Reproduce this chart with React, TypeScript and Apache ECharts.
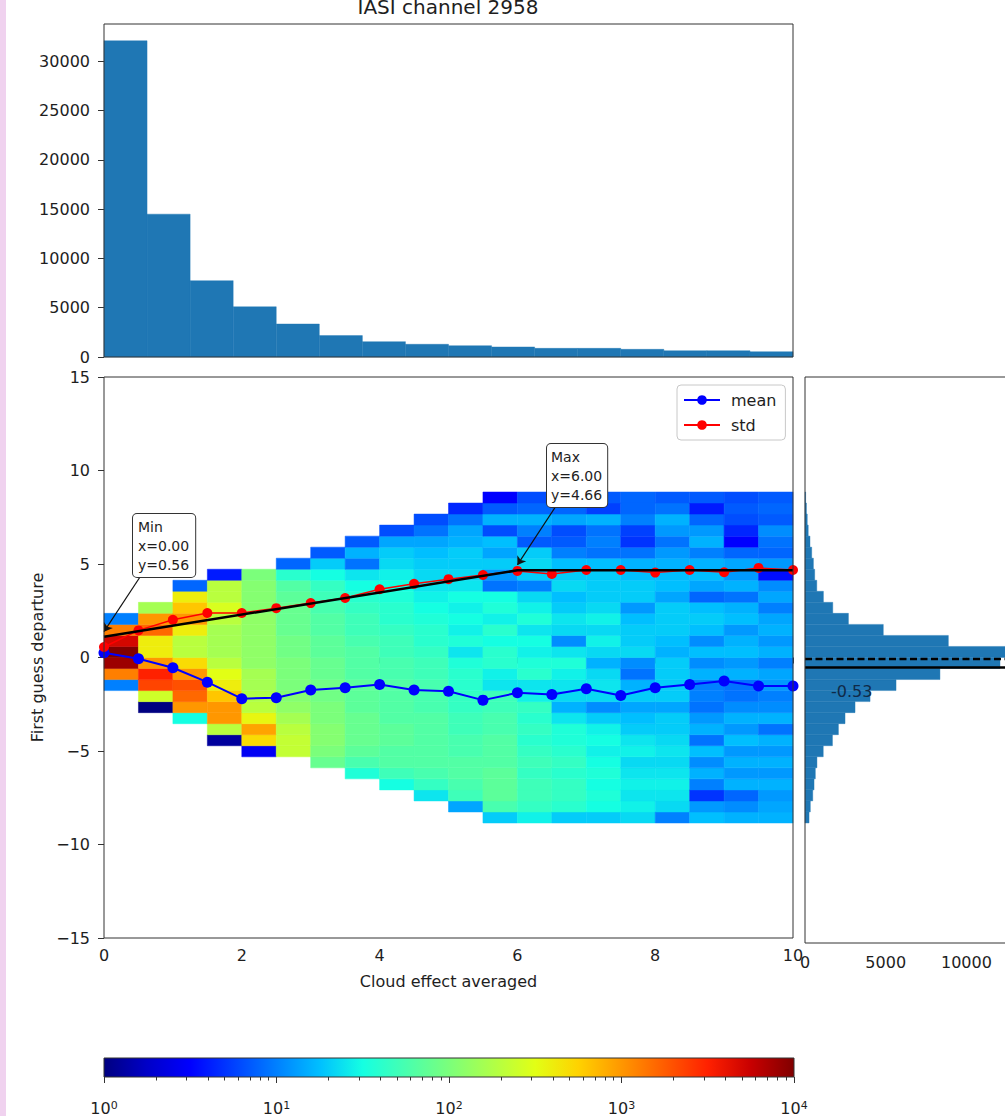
import React, { useEffect, useRef } from "react";
import * as echarts from "echarts";

// ----------------------------- data -----------------------------
const titleText = "IASI channel 2958";
const xAxisTitle = "Cloud effect averaged";
const yAxisTitle = "First guess departure";

// top histogram: 16 bins over [0, 10]
const topBinWidth = 0.625;
const topCounts = [32100, 14500, 7750, 5100, 3350, 2170, 1560, 1290, 1150, 1020, 880, 880, 780, 640, 640, 540];
const topYMax = 33800;
const topYTicks = [0, 5000, 10000, 15000, 20000, 25000, 30000];

// 2D histogram (log10 of counts); columns are 0.5 wide in x, rows 0.59 tall from -8.85
const heatXBinWidth = 0.5;
const heatYEdge0 = -8.85;
const heatYBinWidth = 0.59;
const heatStartRow = [12, 10, 9, 7, 6, 6, 5, 4, 3, 2, 1, 0, 0, 0, 0, 0, 0, 0, 0, 0];
const heatLog10: number[][] = [
  [1.0, 3.1, 3.9, 4.0, 3.7, 3.1, 1.0],
  [0.0, 2.4, 3.35, 3.5, 3.0, 2.6, 2.6, 3.2, 3.0, 2.2],
  [1.5, 3.0, 3.2, 3.3, 3.0, 2.7, 2.3, 2.3, 2.6, 3.0, 2.8, 2.6, 0.9],
  [0.1, 2.3, 3.0, 3.0, 2.8, 2.6, 2.5, 2.3, 2.2, 2.2, 2.2, 2.3, 2.45, 2.3, 2.3, 0.6],
  [0.45, 2.7, 2.95, 2.55, 2.3, 2.25, 2.2, 2.2, 2.1, 2.1, 2.1, 2.1, 2.1, 2.05, 2.05, 2.05, 2.0],
  [2.35, 2.35, 2.3, 2.2, 2.1, 2.05, 2.0, 2.0, 2.0, 1.95, 1.95, 1.9, 1.9, 1.9, 1.85, 1.8, 1.6, 0.9],
  [1.9, 2.0, 2.05, 2.05, 2.0, 2.0, 1.95, 1.95, 1.9, 1.9, 1.85, 1.85, 1.8, 1.8, 1.75, 1.7, 1.65, 1.5, 1.3, 0.85],
  [1.55, 1.75, 1.85, 1.9, 1.9, 1.9, 1.85, 1.85, 1.85, 1.8, 1.8, 1.8, 1.75, 1.7, 1.7, 1.65, 1.6, 1.5, 1.4, 0.95, 1.2, 0.85],
  [1.5, 1.7, 1.8, 1.8, 1.85, 1.85, 1.8, 1.8, 1.8, 1.8, 1.75, 1.75, 1.7, 1.7, 1.65, 1.6, 1.6, 1.55, 1.5, 1.45, 1.35, 1.3, 1.15, 0.8],
  [1.4, 1.65, 1.75, 1.8, 1.8, 1.8, 1.8, 1.8, 1.75, 1.75, 1.75, 1.7, 1.7, 1.65, 1.6, 1.6, 1.55, 1.5, 1.45, 1.4, 1.35, 1.3, 1.25, 1.15, 0.95, 0.8],
  [1.15, 1.7, 1.75, 1.8, 1.8, 1.75, 1.75, 1.7, 1.7, 1.65, 1.65, 1.6, 1.6, 1.55, 1.4, 1.55, 1.45, 1.5, 1.45, 1.5, 1.4, 1.35, 1.3, 1.3, 1.2, 1.15, 0.95, 0.65],
  [1.3, 1.75, 1.85, 1.85, 1.85, 1.8, 1.8, 1.8, 1.75, 1.75, 1.7, 1.7, 1.4, 1.45, 1.6, 1.6, 1.5, 1.6, 1.45, 1.55, 1.5, 0.95, 1.1, 1.3, 1.15, 1.25, 0.8, 1.2, 0.85, 0.5],
  [1.45, 1.65, 1.7, 1.7, 1.65, 1.7, 1.65, 1.6, 1.65, 1.6, 1.65, 1.45, 1.4, 1.6, 1.55, 1.45, 1.5, 1.4, 1.55, 1.45, 1.35, 1.0, 1.3, 1.35, 1.3, 0.85, 1.0, 1.2, 0.9, 0.8],
  [1.3, 1.6, 1.65, 1.65, 1.6, 1.65, 1.6, 1.55, 1.55, 1.4, 1.2, 1.35, 1.4, 1.45, 1.55, 1.4, 1.05, 1.35, 1.4, 1.3, 1.25, 1.35, 1.3, 1.25, 1.0, 0.85, 0.8, 1.15, 0.9, 0.85],
  [1.3, 1.5, 1.55, 1.5, 1.55, 1.5, 1.45, 1.5, 1.45, 1.3, 1.05, 1.35, 1.4, 1.35, 1.2, 1.35, 1.45, 1.35, 1.45, 1.35, 1.3, 1.3, 1.3, 1.25, 0.95, 1.0, 0.95, 1.2, 0.75, 0.85],
  [1.35, 1.45, 1.4, 1.45, 1.4, 1.35, 1.45, 1.4, 1.3, 1.25, 1.15, 1.3, 1.2, 0.95, 1.05, 1.35, 1.3, 1.3, 1.25, 1.1, 1.3, 1.3, 1.25, 1.2, 0.95, 0.7, 0.75, 1.0, 0.9, 0.9],
  [1.0, 1.35, 1.4, 1.45, 1.4, 1.35, 1.4, 1.35, 1.3, 1.3, 1.15, 1.3, 1.3, 1.3, 1.3, 1.2, 1.25, 1.3, 1.3, 1.3, 1.15, 1.25, 1.25, 1.2, 1.1, 0.95, 1.1, 1.2, 0.95, 0.85],
  [1.25, 1.1, 0.7, 1.0, 1.2, 1.05, 1.25, 0.95, 1.2, 1.1, 0.95, 1.0, 1.0, 1.2, 1.05, 1.25, 1.05, 1.25, 1.3, 1.25, 0.9, 1.15, 1.25, 1.2, 1.0, 1.2, 1.1, 0.9, 0.6, 0.85],
  [1.2, 1.05, 0.9, 1.2, 1.1, 1.2, 1.1, 1.25, 1.1, 1.2, 1.05, 0.95, 0.95, 1.2, 1.1, 1.25, 1.2, 1.1, 1.25, 1.2, 0.95, 1.2, 1.1, 1.15, 0.9, 0.5, 0.65, 0.8, 0.85, 0.8],
  [1.2, 1.15, 1.1, 1.2, 1.1, 1.2, 1.1, 1.2, 0.95, 1.2, 1.05, 1.0, 1.1, 1.15, 1.0, 1.2, 1.1, 1.2, 1.15, 1.0, 1.15, 1.05, 0.55, 1.1, 0.9, 0.95, 1.05, 0.85, 0.9, 0.85],
];

// per-bin statistics
const statX = [0, 0.5, 1, 1.5, 2, 2.5, 3, 3.5, 4, 4.5, 5, 5.5, 6, 6.5, 7, 7.5, 8, 8.5, 9, 9.5, 10];
const meanValues = [0.25, -0.07, -0.55, -1.32, -2.2, -2.15, -1.74, -1.62, -1.44, -1.74, -1.8, -2.28, -1.89, -1.98, -1.67, -2.03, -1.62, -1.44, -1.26, -1.53, -1.53];
const stdValues = [0.56, 1.45, 2.02, 2.38, 2.38, 2.64, 2.91, 3.18, 3.65, 3.94, 4.19, 4.41, 4.63, 4.47, 4.68, 4.68, 4.54, 4.68, 4.56, 4.79, 4.68];
const fitX = [0, 6, 10];
const fitY = [1.11, 4.66, 4.66];
const minNote = "Min\nx=0.00\ny=0.56";
const maxNote = "Max\nx=6.00\ny=4.66";
const minArrowTip = [0, 1.38];
const maxArrowTip = [6, 4.95];

// right histogram (same y bins as the 2D histogram)
const rightCounts = [250, 330, 480, 560, 640, 740, 1130, 1700, 2070, 2480, 3100, 4030, 5640, 8360, 12080, 13300, 8880, 4850, 2690, 1720, 1140, 730, 600, 520, 415, 310, 200, 140, 90, 40];
const rightXMax = 14000;
const rightMeanLine = -0.53;
const rightDashLine = -0.08;
const rightMeanLabel = "-0.53";

// colorbar (log10 decades)
const cbarMinorMultipliers = [2, 3, 4, 5, 6, 7, 8, 9];
const cbarDecades = [0, 1, 2, 3];

// ----------------------------- style -----------------------------
const FONT = "DejaVu Sans";
const TXT = "#1e1e1e";
const SPINE = "#333";
const HIST_BLUE = "#1f77b4";
const jetColors = [
  "#000080", "#0000c8", "#0000ff", "#0040ff", "#0080ff", "#00bfff", "#15ffe2", "#48ffaf",
  "#7bff7b", "#afff48", "#e2ff15", "#ffd200", "#ff9700", "#ff5c00", "#ff2100", "#c80000", "#800000",
];

const plainFmt = (v: number) => String(v);
const minusFmt = (v: number) => (v < 0 ? "\u2212" + Math.abs(v) : String(v));

function buildOption() {
  const topData = topCounts.map((c, i) => [i * topBinWidth, (i + 1) * topBinWidth, c]);
  const heatData: number[][] = [];
  heatLog10.forEach((col, i) => {
    col.forEach((v, j) => {
      const row = heatStartRow[i] + j;
      const x0 = i * heatXBinWidth;
      const y0 = heatYEdge0 + row * heatYBinWidth;
      heatData.push([x0, x0 + heatXBinWidth, y0, y0 + heatYBinWidth, v]);
    });
  });
  const rightData = rightCounts.map((c, k) => {
    const y0 = heatYEdge0 + k * heatYBinWidth;
    return [y0, y0 + heatYBinWidth, c];
  });
  const cbarMinor: number[] = [];
  cbarDecades.forEach((d) => cbarMinorMultipliers.forEach((m) => cbarMinor.push(d + Math.log10(m))));

  const labelBase = { fontFamily: FONT, fontSize: 16, color: TXT };
  const tick = (len: number) => ({ show: true, length: len, lineStyle: { color: SPINE, width: 1 } });
  const gridBase = { show: true, z: 10, backgroundColor: "transparent", borderColor: SPINE, borderWidth: 1 };

  const jetStops = jetColors.map((c, i) => ({ offset: i / (jetColors.length - 1), color: c }));

  return {
    animation: false,
    textStyle: { fontFamily: FONT },
    grid: [
      { ...gridBase, left: 104, top: 24, width: 689, height: 333 },
      { ...gridBase, left: 104, top: 377, width: 689, height: 561 },
      { ...gridBase, left: 805, top: 377, width: 226, height: 566 },
      { ...gridBase, left: 104, top: 1058, width: 690, height: 37 },
    ],
    xAxis: [
      { gridIndex: 0, type: "value", min: 0, max: 10, axisLine: { show: false }, axisTick: { show: false }, axisLabel: { show: false }, splitLine: { show: false } },
      {
        gridIndex: 1, type: "value", min: 0, max: 10, interval: 2, position: "bottom",
        axisLine: { show: false }, axisTick: tick(6), splitLine: { show: false },
        axisLabel: { ...labelBase, margin: 9 },
        name: xAxisTitle, nameLocation: "middle", nameGap: 35, nameTextStyle: { ...labelBase },
      },
      {
        gridIndex: 2, type: "value", min: 0, max: rightXMax, interval: 5000, position: "bottom",
        axisLine: { show: false }, axisTick: tick(6), splitLine: { show: false },
        axisLabel: { ...labelBase, margin: 11, showMaxLabel: false, formatter: plainFmt },
      },
      {
        gridIndex: 3, type: "value", min: 0, max: 4, interval: 1, position: "bottom",
        axisLine: { show: false }, axisTick: tick(6), splitLine: { show: false },
        axisLabel: {
          margin: 23,
          formatter: (v: number) => `{b|10}{s|${v}}`,
          rich: {
            b: { fontFamily: FONT, fontSize: 16, color: TXT },
            s: { fontFamily: FONT, fontSize: 11, color: TXT, verticalAlign: "top" },
          },
        },
      },
      {
        gridIndex: 3, type: "value", min: 0, max: 4, position: "bottom",
        axisLine: { show: false }, splitLine: { show: false }, axisLabel: { show: false },
        axisTick: { ...tick(3.5), customValues: cbarMinor },
      },
    ],
    yAxis: [
      {
        gridIndex: 0, type: "value", min: 0, max: topYMax,
        axisLine: { show: false }, splitLine: { show: false },
        axisTick: { ...tick(6), customValues: topYTicks },
        axisLabel: { ...labelBase, margin: 14, customValues: topYTicks, formatter: plainFmt },
      },
      {
        gridIndex: 1, type: "value", min: -15, max: 15, interval: 5,
        axisLine: { show: false }, splitLine: { show: false }, axisTick: tick(6),
        axisLabel: { ...labelBase, margin: 14, formatter: minusFmt },
        name: yAxisTitle, nameLocation: "middle", nameGap: 53, nameRotate: 90, nameTextStyle: { ...labelBase },
      },
      { gridIndex: 2, type: "value", min: -15.27, max: 15, axisLine: { show: false }, axisTick: { show: false }, axisLabel: { show: false }, splitLine: { show: false } },
      { gridIndex: 3, type: "value", min: 0, max: 1, axisLine: { show: false }, axisTick: { show: false }, axisLabel: { show: false }, splitLine: { show: false } },
    ],
    visualMap: {
      type: "continuous", show: false, min: 0, max: 4, dimension: 4, seriesIndex: 1,
      inRange: { color: jetColors },
    },
    legend: {
      data: ["mean", "std"], orient: "vertical", left: 677, top: 385,
      padding: [7, 9, 7, 6], itemGap: 9, itemWidth: 36, itemHeight: 12,
      backgroundColor: "#fff", borderColor: "#c8c8c8", borderWidth: 1, borderRadius: 4,
      textStyle: { fontFamily: FONT, fontSize: 16, color: TXT, padding: [0, 0, 0, 6] },
      selectedMode: false,
    },
    series: [
      {
        type: "custom", name: "top", xAxisIndex: 0, yAxisIndex: 0, silent: true, z: 2,
        data: topData, encode: { x: [0, 1], y: 2 },
        renderItem: (_p: any, api: any) => {
          const a = api.coord([api.value(0), api.value(2)]);
          const b = api.coord([api.value(1), 0]);
          return { type: "rect", shape: { x: a[0], y: a[1], width: b[0] - a[0], height: b[1] - a[1] }, style: { fill: HIST_BLUE, stroke: HIST_BLUE, lineWidth: 0.4 } };
        },
      },
      {
        type: "custom", name: "density", xAxisIndex: 1, yAxisIndex: 1, silent: true, z: 1,
        data: heatData, encode: { x: [0, 1], y: [2, 3] },
        renderItem: (_p: any, api: any) => {
          const a = api.coord([api.value(0), api.value(3)]);
          const b = api.coord([api.value(1), api.value(2)]);
          const c = api.visual("color");
          return { type: "rect", shape: { x: a[0], y: a[1], width: b[0] - a[0], height: b[1] - a[1] }, style: { fill: c, stroke: c, lineWidth: 0.5 } };
        },
      },
      {
        type: "line", name: "mean", xAxisIndex: 1, yAxisIndex: 1, silent: true, z: 3,
        data: statX.map((x, i) => [x, meanValues[i]]),
        symbol: "circle", symbolSize: 11, color: "#0000ff",
        lineStyle: { color: "#0000ff", width: 2 }, itemStyle: { color: "#0000ff" },
      },
      {
        type: "line", name: "std", xAxisIndex: 1, yAxisIndex: 1, silent: true, z: 3,
        data: statX.map((x, i) => [x, stdValues[i]]),
        symbol: "circle", symbolSize: 10, color: "#ff0000",
        lineStyle: { color: "#ff0000", width: 1.5 }, itemStyle: { color: "#ff0000" },
      },
      {
        type: "line", name: "fit", xAxisIndex: 1, yAxisIndex: 1, silent: true, z: 4,
        data: fitX.map((x, i) => [x, fitY[i]]),
        symbol: "none", lineStyle: { color: "#000", width: 2.5 },
        markLine: {
          silent: true, symbol: ["none", "arrow"], symbolSize: 8,
          label: { show: false },
          lineStyle: { color: "#111", width: 1.2, type: "solid" },
          data: [
            [{ x: 140, y: 577 }, { coord: minArrowTip }],
            [{ x: 556, y: 506 }, { coord: maxArrowTip }],
          ],
        },
      },
      {
        type: "custom", name: "right", xAxisIndex: 2, yAxisIndex: 2, silent: true, z: 2,
        data: rightData, encode: { y: [0, 1], x: 2 },
        renderItem: (_p: any, api: any) => {
          const a = api.coord([0, api.value(1)]);
          const b = api.coord([api.value(2), api.value(0)]);
          return { type: "rect", shape: { x: a[0], y: a[1], width: b[0] - a[0], height: b[1] - a[1] }, style: { fill: HIST_BLUE, stroke: HIST_BLUE, lineWidth: 0.4 } };
        },
      },
      {
        type: "line", name: "rightMean", xAxisIndex: 2, yAxisIndex: 2, silent: true, z: 4,
        data: [[0, rightMeanLine], [rightXMax, rightMeanLine]], symbol: "none",
        lineStyle: { color: "#000", width: 2.5 },
      },
      {
        type: "line", name: "rightDash", xAxisIndex: 2, yAxisIndex: 2, silent: true, z: 4,
        data: [[0, rightDashLine], [rightXMax, rightDashLine]], symbol: "none",
        lineStyle: { color: "#000", width: 2.5, type: [7, 3.5] },
      },
      {
        type: "custom", name: "colorbar", xAxisIndex: 3, yAxisIndex: 3, silent: true, z: 2,
        data: [[0, 4, 0, 1]], encode: { x: [0, 1], y: [2, 3] },
        renderItem: (_p: any, api: any) => {
          const a = api.coord([api.value(0), api.value(3)]);
          const b = api.coord([api.value(1), api.value(2)]);
          return {
            type: "rect", shape: { x: a[0], y: a[1], width: b[0] - a[0], height: b[1] - a[1] },
            style: { fill: new echarts.graphic.LinearGradient(0, 0, 1, 0, jetStops) },
          };
        },
      },
    ],
    graphic: [
      { type: "rect", left: 0, top: 0, shape: { width: 6, height: 1116 }, style: { fill: "#f0d2ef" }, z: 0 },
      { type: "text", x: 448, y: 6.5, style: { text: titleText, fontFamily: FONT, fontSize: 20, fill: TXT, align: "center", verticalAlign: "middle" }, z: 100 },
      {
        type: "text", left: 132, top: 513, z: 100,
        style: { text: minNote, fontFamily: FONT, fontSize: 14, lineHeight: 19, fill: TXT, backgroundColor: "#fff", borderColor: "#333", borderWidth: 1, borderRadius: 4, padding: [3, 6, 3, 5] },
      },
      {
        type: "text", left: 546, top: 443, z: 100,
        style: { text: maxNote, fontFamily: FONT, fontSize: 14, lineHeight: 19, fill: TXT, backgroundColor: "#fff", borderColor: "#333", borderWidth: 1, borderRadius: 4, padding: [3, 5, 3, 4] },
      },
      { type: "text", left: 831, top: 683, z: 100, style: { text: rightMeanLabel, fontFamily: FONT, fontSize: 16, fill: "#0f2a48" } },
    ],
  };
}

export default function App() {
  const ref = useRef<HTMLDivElement>(null);
  useEffect(() => {
    if (!ref.current) return;
    const chart = echarts.init(ref.current, null, { renderer: "svg" });
    chart.setOption(buildOption() as any);
    return () => chart.dispose();
  }, []);
  return (
    <div style={{ position: "absolute", left: 0, top: 0, width: 1005, height: 1116, overflow: "hidden", background: "#fff" }}>
      <div ref={ref} style={{ position: "absolute", left: 0, top: 0, width: 1040, height: 1116 }} />
    </div>
  );
}
